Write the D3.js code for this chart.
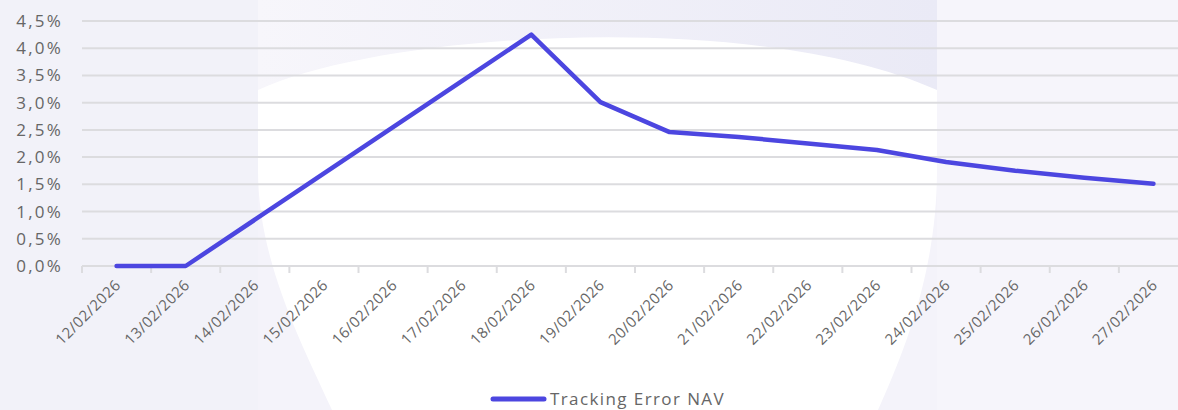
<!DOCTYPE html>
<html>
<head>
<meta charset="utf-8">
<script src="https://cdn.jsdelivr.net/npm/d3@7"></script>
<style>
  html, body { margin: 0; padding: 0; background: #f4f3fa; }
  svg { display: block; font-family: "Open Sans", Lato, sans-serif; }
</style>
</head>
<body>
<svg width="1178" height="410"></svg>
<script>
const svg = d3.select("svg");

// data
const dates = ["12/02/2026", "13/02/2026", "14/02/2026", "15/02/2026", "16/02/2026", "17/02/2026",
  "18/02/2026", "19/02/2026", "20/02/2026", "21/02/2026", "22/02/2026", "23/02/2026",
  "24/02/2026", "25/02/2026", "26/02/2026", "27/02/2026"];
const trackingError = [0, 0, 0.85, 1.7, 2.55, 3.4, 4.25, 3.01, 2.46, 2.37, 2.25, 2.13, 1.91, 1.75, 1.62, 1.51];
const yTicks = [0, 0.5, 1, 1.5, 2, 2.5, 3, 3.5, 4, 4.5];
const seriesName = "Tracking Error NAV";

const lineColor = "#4c46e0";

// background shapes
const defs = svg.append("defs");
const grad = defs.append("linearGradient").attr("id", "topBand");
grad.append("stop").attr("offset", "0%").attr("stop-color", "#f7f6fb");
grad.append("stop").attr("offset", "100%").attr("stop-color", "#eaeaf6");

svg.append("rect").attr("width", 1178).attr("height", 410).attr("fill", "#f4f3fa");
svg.append("rect").attr("x", 0).attr("width", 258).attr("height", 410).attr("fill", "#f2f2f9");
svg.append("rect").attr("x", 258).attr("width", 679).attr("height", 140).attr("fill", "url(#topBand)");
svg.append("rect").attr("x", 937).attr("width", 241).attr("height", 410).attr("fill", "#f6f5fb");
svg.append("path")
  .attr("d", "M258,90 C390,30 760,10 937,90 L937,170 C937,270 905,350 878,410 L332,410 C300,340 258,260 258,170 Z")
  .attr("fill", "#ffffff");

// scales
const x = d3.scaleBand().domain(dates).range([82, 1188]);
const y = d3.scaleLinear().domain([0, 4.5]).range([266, 21]);

// grid lines
svg.append("g")
  .selectAll("line")
  .data(yTicks)
  .join("line")
  .attr("x1", 82).attr("x2", 1188)
  .attr("y1", d => y(d)).attr("y2", d => y(d))
  .attr("stroke", "#dcdcdf")
  .attr("stroke-width", 2);

// y labels
svg.append("g")
  .selectAll("text")
  .data(yTicks)
  .join("text")
  .attr("x", 63)
  .attr("y", d => y(d))
  .attr("dy", "0.35em")
  .attr("text-anchor", "end")
  .attr("fill", "#666")
  .style("font-size", "17px")
  .style("letter-spacing", "2.2px")
  .text(d => d.toFixed(1).replace(".", ",") + "%");

// tick marks at band edges
svg.append("g")
  .selectAll("line")
  .data(dates)
  .join("line")
  .attr("x1", d => x(d)).attr("x2", d => x(d))
  .attr("y1", 266).attr("y2", 273)
  .attr("stroke", "#dcdcdf")
  .attr("stroke-width", 2);

// x labels, rotated
svg.append("g")
  .selectAll("text")
  .data(dates)
  .join("text")
  .attr("transform", d => `translate(${x(d) + x.bandwidth() / 2 + 5}, 286) rotate(-45)`)
  .attr("text-anchor", "end")
  .attr("fill", "#666")
  .style("font-size", "15px")
  .style("letter-spacing", "0.5px")
  .text(d => d);

// line
const line = d3.line()
  .x(d => x(d.date) + x.bandwidth() / 2)
  .y(d => y(d.value));

svg.append("path")
  .datum(dates.map((d, i) => ({date: d, value: trackingError[i]})))
  .attr("d", line)
  .attr("fill", "none")
  .attr("stroke", lineColor)
  .attr("stroke-width", 4.5)
  .attr("stroke-linejoin", "round")
  .attr("stroke-linecap", "round");

// legend
const legend = svg.append("g").attr("transform", "translate(0, 399)");
legend.append("line")
  .attr("x1", 493).attr("x2", 544)
  .attr("stroke", lineColor)
  .attr("stroke-width", 5)
  .attr("stroke-linecap", "round");
legend.append("text")
  .attr("x", 550)
  .attr("dy", "0.35em")
  .attr("fill", "#666")
  .style("font-size", "17px")
  .style("letter-spacing", "1.4px")
  .text(seriesName);
</script>
</body>
</html>
